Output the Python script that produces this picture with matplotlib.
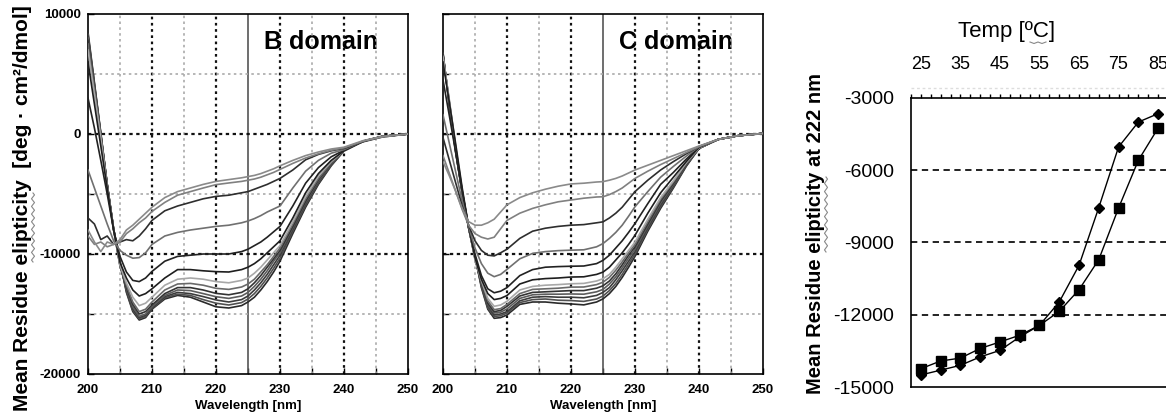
import matplotlib
matplotlib.use("Agg")
import matplotlib.pyplot as plt
import numpy as np

plt.rcParams['font.family'] = ['Liberation Sans', 'DejaVu Sans']
plt.rcParams['axes.unicode_minus'] = False

wl = [200, 201, 202, 203, 204, 205, 206, 207, 208, 209, 210, 212, 214, 216, 218,
      220, 222, 224, 225, 226, 227, 228, 229, 230, 232, 234, 236, 238, 240, 243, 246, 250]

# B domain spectra, one per temperature
B_25 = [8500, 4300, 100, -4200, -7900, -10600, -13200, -14800, -15500, -15300, -14600, -13750, -13450, -13600, -14000,
        -14400, -14500, -14300, -14000, -13600, -13000, -12300, -11500, -10600, -8300, -6100, -4200, -2650, -1400, -600, -200, 0]
B_30 = [8300, 4200, 50, -4200, -7900, -10700, -13100, -14700, -15400, -15200, -14550, -13650, -13350, -13450, -13800,
        -14100, -14250, -14050, -13750, -13300, -12700, -12000, -11200, -10350, -8100, -5950, -4100, -2600, -1400, -600, -200, 0]
B_35 = [8200, 4100, 0, -4200, -7900, -10800, -13000, -14600, -15300, -15100, -14500, -13550, -13200, -13300, -13550,
        -13830, -14000, -13800, -13500, -13000, -12400, -11700, -10900, -10100, -7950, -5800, -4000, -2550, -1400, -600, -200, 0]
B_40 = [8000, 4000, -50, -4200, -7900, -10900, -12900, -14400, -15200, -15000, -14400, -13450, -13000, -13050, -13300,
        -13560, -13700, -13500, -13200, -12700, -12100, -11400, -10600, -9900, -7800, -5700, -3900, -2500, -1400, -600, -200, 0]
B_45 = [7800, 3900, -100, -4200, -7900, -11000, -12800, -14200, -15000, -14800, -14250, -13300, -12800, -12800, -13000,
        -13280, -13400, -13200, -12900, -12400, -11800, -11100, -10400, -9700, -7700, -5600, -3800, -2450, -1400, -600, -200, 0]
B_50 = [7500, 3700, -100, -4300, -8000, -11000, -12600, -14000, -14800, -14600, -14000, -13000, -12500, -12450, -12600,
        -12860, -12950, -12750, -12500, -12100, -11500, -10900, -10200, -9500, -7500, -5400, -3700, -2400, -1400, -600, -200, 0]
B_55 = [7000, 3300, -400, -4400, -8000, -10900, -12400, -13600, -14300, -14100, -13600, -12600, -12100, -12000, -12100,
        -12300, -12400, -12200, -12000, -11600, -11100, -10500, -9900, -9300, -7300, -5200, -3500, -2300, -1400, -600, -200, 0]
B_60 = [6000, 2500, -1000, -4500, -8000, -10700, -12000, -13000, -13500, -13300, -12900, -12000, -11300, -11300, -11400,
        -11470, -11500, -11300, -11100, -10800, -10400, -9900, -9400, -8900, -7000, -4900, -3300, -2200, -1400, -600, -200, 0]
B_65 = [3000, 500, -2200, -5000, -8000, -10200, -11500, -12200, -12300, -12000, -11450, -10600, -10200, -10100, -10000,
        -10000, -10000, -9800, -9600, -9300, -9000, -8600, -8150, -7700, -6000, -4100, -2800, -1900, -1350, -600, -200, 0]
B_70 = [-3000, -4500, -6000, -7500, -8900, -9700, -10100, -10350, -10300, -9900, -9200, -8500, -8200, -8000, -7850,
        -7700, -7600, -7400, -7250, -7050, -6800, -6500, -6250, -6000, -4500, -3100, -2200, -1600, -1300, -600, -200, 0]
B_75 = [-7000, -7500, -8800, -8500, -9200, -9000, -8800, -8900, -8500, -7900, -7200, -6400, -6000, -5700, -5400,
        -5200, -5100, -4900, -4800, -4600, -4400, -4200, -3950, -3700, -3000, -2150, -1700, -1400, -1200, -650, -250, 0]
B_80 = [-8500, -9200, -9000, -9400, -9200, -9000, -8300, -7900, -7400, -7000, -6450, -5700, -5100, -4800, -4500,
        -4220, -4080, -3950, -3850, -3750, -3600, -3400, -3200, -2950, -2450, -2000, -1650, -1350, -1150, -600, -250, 0]
B_85 = [-8000, -9000, -9800, -9000, -9200, -8800, -8000, -7600, -7100, -6600, -6100, -5300, -4800, -4500, -4200,
        -3950, -3800, -3650, -3550, -3450, -3300, -3100, -2900, -2650, -2200, -1800, -1500, -1250, -1100, -550, -200, 0]

# C domain spectra
C_25 = [6800, 2200, -1600, -4900, -7800, -10200, -12800, -14600, -15360, -15300, -15080, -14200, -14000, -14000, -14100,
        -14160, -14240, -14000, -13740, -13300, -12700, -11950, -11100, -10200, -8100, -6200, -4500, -2700, -1200, -450, -150, 50]
C_30 = [6700, 2300, -1500, -4900, -7800, -10200, -12700, -14500, -15200, -15150, -14920, -14050, -13800, -13750, -13850,
        -13880, -13950, -13750, -13500, -13050, -12450, -11700, -10850, -10000, -7950, -6050, -4400, -2650, -1200, -450, -150, 50]
C_35 = [6700, 2400, -1500, -4900, -7800, -10300, -12600, -14300, -15080, -15000, -14800, -13900, -13600, -13550, -13600,
        -13600, -13650, -13450, -13200, -12800, -12150, -11400, -10600, -9800, -7800, -5900, -4300, -2600, -1200, -450, -150, 50]
C_40 = [6600, 2500, -1400, -4800, -7800, -10300, -12500, -14200, -14920, -14850, -14580, -13700, -13400, -13350, -13350,
        -13330, -13350, -13150, -12950, -12500, -11900, -11150, -10350, -9600, -7650, -5750, -4200, -2550, -1200, -450, -150, 50]
C_45 = [6600, 2600, -1300, -4800, -7800, -10400, -12400, -14100, -14800, -14700, -14360, -13500, -13200, -13150, -13100,
        -13050, -13050, -12850, -12650, -12250, -11650, -10900, -10100, -9400, -7500, -5600, -4100, -2500, -1150, -450, -150, 50]
C_50 = [6500, 2700, -1200, -4700, -7800, -10400, -12300, -13900, -14640, -14550, -14200, -13300, -12950, -12900, -12850,
        -12760, -12750, -12550, -12350, -11950, -11350, -10650, -9900, -9200, -7300, -5450, -4000, -2450, -1150, -450, -150, 50]
C_55 = [6400, 2800, -1100, -4700, -7700, -10500, -12200, -13700, -14360, -14250, -13940, -13000, -12700, -12600, -12550,
        -12480, -12450, -12250, -12060, -11700, -11100, -10400, -9700, -9000, -7100, -5300, -3900, -2400, -1150, -450, -150, 50]
C_60 = [6000, 2600, -900, -4500, -7700, -10300, -12100, -13300, -13800, -13700, -13460, -12500, -12150, -12050, -12000,
        -11920, -11900, -11700, -11510, -11100, -10500, -9900, -9200, -8440, -6600, -4900, -3600, -2300, -1100, -450, -150, 50]
C_65 = [4500, 1500, -1600, -4800, -7700, -10000, -11800, -12900, -13230, -13100, -12800, -11800, -11300, -11100, -11050,
        -11020, -11000, -10800, -10530, -10100, -9500, -8900, -8200, -7460, -5800, -4200, -3200, -2100, -1100, -450, -150, 50]
C_70 = [1600, -800, -3200, -5600, -7700, -9500, -10800, -11600, -11890, -11700, -11280, -10400, -9950, -9800, -9720,
        -9680, -9650, -9400, -9130, -8700, -8200, -7600, -6850, -6060, -4800, -3600, -2700, -1850, -1050, -450, -150, 50]
C_75 = [-300, -2200, -4100, -6000, -7600, -8900, -9700, -10100, -10160, -9900, -9600, -8700, -8100, -7850, -7700,
        -7600, -7550, -7400, -7320, -7000, -6600, -6100, -5450, -4800, -3850, -3000, -2300, -1650, -1050, -450, -150, 50]
C_80 = [-1800, -3300, -4800, -6300, -7600, -8300, -8600, -8750, -8600, -7900, -7200, -6600, -6200, -5900, -5650,
        -5500, -5350, -5250, -5230, -5050, -4800, -4500, -4100, -3700, -3100, -2550, -2050, -1550, -1050, -450, -150, 50]
C_85 = [-2300, -3500, -4800, -6200, -7300, -7600, -7600, -7400, -7100, -6500, -5900, -5300, -4900, -4600, -4350,
        -4160, -4100, -4000, -3970, -3850, -3700, -3500, -3250, -3000, -2600, -2200, -1800, -1400, -1000, -450, -150, 50]

# melting curves at 222 nm
temps = [25, 30, 35, 40, 45, 50, 55, 60, 65, 70, 75, 80, 85]
b_222 = [-14500, -14300, -14100, -13750, -13480, -12920, -12440, -11470, -9950, -7550, -5035, -4000, -3650]
c_222 = [-14240, -13920, -13800, -13400, -13130, -12850, -12440, -11860, -10960, -9710, -7570, -5590, -4250]

B_spectra = [B_25, B_30, B_35, B_40, B_45, B_50, B_55, B_60, B_65, B_70, B_75, B_80, B_85]
C_spectra = [C_25, C_30, C_35, C_40, C_45, C_50, C_55, C_60, C_65, C_70, C_75, C_80, C_85]
shades = ['#2a2a2a', '#505050', '#3c3c3c', '#5c5c5c', '#333333', '#6a6a6a', '#a8a8a8',
          '#1e1e1e', '#222222', '#707070', '#2e2e2e', '#808080', '#8a8a8a']

W, H = 1166, 412
fig = plt.figure(figsize=(W / 100, H / 100), dpi=100)


def squiggle(x0, y0, y1, n=9, amp=1.5):
    # spell-check style wavy underline beside rotated text (pixel coords)
    ys = np.linspace(y0, y1, n * 4 + 1)
    xs = x0 + amp * np.sin(np.linspace(0, n * 2 * np.pi, len(ys)))
    fig.add_artist(plt.Line2D(xs / W, 1 - ys / H, color='#888888', lw=0.8))


def spectra_panel(rect, spectra, title, ylabels):
    ax = fig.add_axes(rect)
    ax.set_xlim(200, 250)
    ax.set_ylim(-20000, 10000)
    for x in [210, 220, 230, 240]:
        ax.axvline(x, color='#111111', lw=1.6, ls=(0, (1.2, 1.6)), zorder=2)
    for x in [205, 215, 235, 245]:
        ax.axvline(x, color='#aaaaaa', lw=1.2, ls=(0, (1.5, 2.0)), zorder=2)
    ax.axvline(225, color='#555555', lw=1.2, zorder=2)
    for y in [0, -10000]:
        ax.axhline(y, color='#111111', lw=1.6, ls=(0, (1.5, 1.6)), zorder=2)
    for y in [5000, -5000, -15000]:
        ax.axhline(y, color='#aaaaaa', lw=1.2, ls=(0, (1.5, 2.0)), zorder=2)
    for s, c in zip(spectra, shades):
        ax.plot(wl, s, color=c, lw=1.2, zorder=3)
    ax.text(227.5, 7700, title, fontsize=18, fontweight='bold', ha='left', va='center', zorder=1)
    ax.set_xticks(range(200, 251, 10))
    ax.set_xticks(range(205, 250, 10), minor=True)
    ax.set_yticks(range(-20000, 10001, 10000))
    ax.set_yticks([5000, -5000, -15000], minor=True)
    ax.tick_params(which='both', direction='in', length=4, width=1, labelsize=9.5)
    ax.tick_params(axis='x', pad=7)
    ax.tick_params(axis='y', pad=5)
    for lab in ax.get_xticklabels() + ax.get_yticklabels():
        lab.set_fontweight('bold')
    if not ylabels:
        ax.set_yticklabels([])
    ax.set_xlabel('Wavelength [nm]', fontsize=9.5, fontweight='bold', labelpad=3)
    for sp in ax.spines.values():
        sp.set_linewidth(1.2)
    return ax


axB = spectra_panel([88 / W, 1 - 374 / H, 320 / W, 360 / H], B_spectra, 'B domain', True)
axC = spectra_panel([443 / W, 1 - 374 / H, 320 / W, 360 / H], C_spectra, 'C domain', False)

fig.text(23 / W, 1 - 208 / H, 'Mean Residue elipticity  [deg \u00b7 cm\u00b2/dmol]',
         rotation=90, fontsize=15, fontweight='bold', ha='center', va='center')
squiggle(33, 193, 262)

# melting curves
narrow = ['Liberation Sans Narrow', 'Liberation Sans', 'DejaVu Sans']
ax3 = fig.add_axes([911 / W, 1 - 387 / H, 264 / W, 289 / H])
ax3.set_xlim(22.73, 89.28)
ax3.set_ylim(-15000, -3000)
for y in [-6000, -9000, -12000]:
    ax3.axhline(y, color='#111111', lw=1.3, ls=(0, (3.5, 2.5)), zorder=1)
ax3.plot(temps, b_222, color='black', lw=1.0, marker='D', ms=5.5, zorder=3)
ax3.plot(temps, c_222, color='black', lw=1.0, marker='s', ms=6.5, zorder=3)
ax3.xaxis.tick_top()
ax3.set_xticks(range(25, 86, 10))
ax3.set_xticks(np.arange(22.5, 89, 2.5), minor=True)
ax3.set_yticks(range(-15000, -2999, 3000))
ax3.tick_params(axis='x', which='both', direction='out', length=3, width=1, pad=15, labelsize=13)
ax3.tick_params(axis='y', length=0, pad=12, labelsize=14)
for lab in ax3.get_xticklabels() + ax3.get_yticklabels():
    lab.set_family(narrow)
for sp in ax3.spines.values():
    sp.set_linewidth(1.2)
ax3.plot([0, 1], [1.035, 1.035], transform=ax3.transAxes, color='#dddddd', lw=1,
         ls=(0, (2, 2)), clip_on=False)
ax3.set_ylabel('Mean Residue elipticity at 222 nm', fontsize=14.5, fontweight='bold')
ax3.yaxis.set_label_coords((825 - 911) / 264, (387 - 233) / 289)
squiggle(826, 177, 252)
fig.text(1007 / W, 1 - 31 / H, 'Temp [\u00baC]', fontsize=16, ha='center', va='center')
fig.add_artist(plt.Line2D((1030 + 4 * np.arange(5)) / W,
                          1 - (42 + np.array([0, 1.5, 0, 1.5, 0])) / H, color='#888888', lw=0.8))

fig.savefig('out.png', dpi=100)
